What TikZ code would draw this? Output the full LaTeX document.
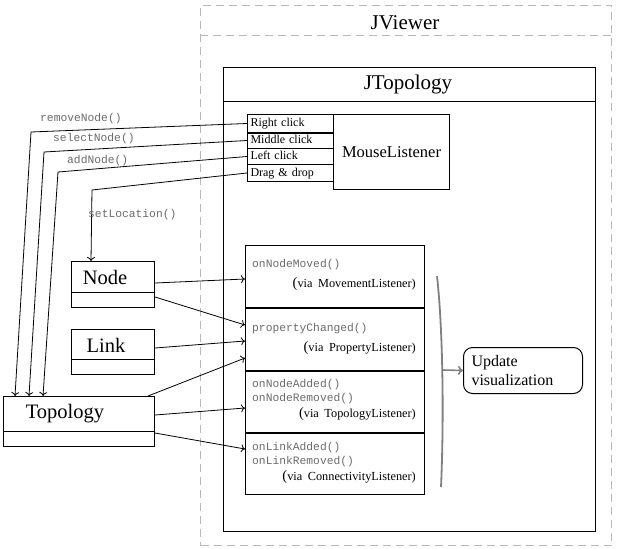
\documentclass[tikz,border=0pt]{standalone}
\usepackage{fontspec}
\setmainfont{Liberation Serif}
\setmonofont{Liberation Mono}
\usetikzlibrary{calc,arrows.meta}
\definecolor{dashgray}{gray}{0.72}
\definecolor{codegray}{gray}{0.42}
\definecolor{bracegray}{gray}{0.5}
\newcommand{\bparen}{{\fontsize{14.5}{15}\selectfont(}}
\newcommand{\viasp}{\hspace{0.45em}}
\tikzset{
  frame/.style={draw, line width=1pt, inner sep=0pt, anchor=north west},
  vframe/.style={draw=dashgray, line width=1pt, dash pattern=on 8pt off 5pt, inner sep=0pt, anchor=north west},
  vline/.style={draw=dashgray, line width=1pt, dash pattern=on 8pt off 5pt},
  thickdiv/.style={line width=2.2pt},
  title/.style={font=\fontsize{21}{24}\selectfont, inner sep=0pt, anchor=base},
  cls/.style={font=\fontsize{20.5}{24}\selectfont, inner sep=0pt, anchor=base},
  cell/.style={frame, font=\fontsize{12}{14}\selectfont, align=left, text width=80pt, inner xsep=3pt, text height=8.5pt, text depth=2.5pt, minimum width=86pt},
  code/.style={font=\ttfamily\fontsize{11.3}{13}\selectfont, text=codegray, anchor=base west, inner sep=0pt},
  via/.style={font=\fontsize{12.3}{14}\selectfont, anchor=base east, inner sep=0pt},
  arr/.style={-{To[length=4pt,width=8pt]}, line width=0.8pt},
  grayarr/.style={-{To[length=5pt,width=9pt]}, line width=1.6pt, draw=bracegray},
  brace/.style={line width=1.8pt, draw=bracegray},
}
\begin{document}
\begin{tikzpicture}[x=1pt,y=-1pt]
\useasboundingbox (0,0) rectangle (617,548);

% JViewer
\node[vframe, minimum width=411pt, minimum height=540pt] (jviewer) at (200,5) {};
\draw[vline] ($(jviewer.north west)+(0,31)$) -- ($(jviewer.north east)+(0,31)$);
\node[title] (jvtitle) at (405,29.5) {JViewer};

% JTopology
\node[frame, minimum width=372pt, minimum height=464pt] (jtopo) at (223,67) {};
\draw[line width=1pt] ($(jtopo.north west)+(0,35)$) -- ($(jtopo.north east)+(0,35)$);
\node[title] (jttitle) at (408,90) {JTopology};

% Mouse listener
\node[cell, minimum height=18pt] (rc) at (247,114) {Right click};
\node[cell, minimum height=16pt] (mc) at (247,132) {Middle click};
\node[cell, minimum height=16pt] (lc) at (247,148) {Left click};
\node[cell, minimum height=17pt] (dd) at (247,164) {Drag \& drop};
\draw[thickdiv] (rc.south west) -- (rc.south east);
\node[frame, minimum width=116pt, minimum height=75pt, font=\fontsize{16.5}{18}\selectfont, text height=11pt, text depth=0pt] (mouse) at (333,114) {MouseListener};

% Listener stack
\node[frame, minimum width=179pt, minimum height=62pt] (moved) at (245,245) {};
\node[frame, minimum width=179pt, minimum height=63pt] (prop) at (245,307) {};
\node[frame, minimum width=179pt, minimum height=62pt] (topl) at (245,370) {};
\node[frame, minimum width=179pt, minimum height=62pt] (conn) at (245,432) {};
\draw[thickdiv] (moved.south west) -- (moved.south east);
\draw[thickdiv] (prop.south west) -- (prop.south east);
\draw[thickdiv] (topl.south west) -- (topl.south east);

\node[code] (t1) at (252,267) {onNodeMoved()};
\node[via] (v1) at (416,287) {\bparen via\viasp MovementListener)};
\node[code] (t2) at (252,331) {propertyChanged()};
\node[via] (v2) at (416,351) {\bparen via\viasp PropertyListener)};
\node[code] (t3) at (252,387) {onNodeAdded()};
\node[code] (t4) at (252,401) {onNodeRemoved()};
\node[via] (v3) at (416,417) {\bparen via\viasp TopologyListener)};
\node[code] (t5) at (252,450) {onLinkAdded()};
\node[code] (t6) at (252,464) {onLinkRemoved()};
\node[via] (v4) at (416,480) {\bparen via\viasp ConnectivityListener)};

% Update visualization
\node[frame, rounded corners=9pt, minimum width=119pt, minimum height=46pt, text width=103pt, inner xsep=8pt, align=left, font=\fontsize{16}{19}\selectfont] (update) at (463,347) {Update\\visualization};
\draw[brace] (437,276) .. controls (443,330) and (444,420) .. (441,487);
\coordinate (bmid) at (442.5,370);
\draw[grayarr] (bmid) -- (update.west);

% Model classes
\node[frame, minimum width=83pt, minimum height=46pt] (nodeC) at (71,261) {};
\draw[line width=1pt] ($(nodeC.north west)+(0,31)$) -- ($(nodeC.north east)+(0,31)$);
\node[cls] (nodeT) at (105,284) {Node};
\node[frame, minimum width=83pt, minimum height=45pt] (linkC) at (71,329) {};
\draw[line width=1pt] ($(linkC.north west)+(0,30)$) -- ($(linkC.north east)+(0,30)$);
\node[cls] (linkT) at (106,352) {Link};
\node[frame, minimum width=151pt, minimum height=50pt] (topoC) at (3,396) {};
\draw[line width=1pt] ($(topoC.north west)+(0,35)$) -- ($(topoC.north east)+(0,35)$);
\node[cls] (topoT) at (65,418) {Topology};

% Mouse actions to model
\draw[arr] (rc.west) -- (31,132) -- ($(topoC.north west)+(12,0)$);
\draw[arr] (mc.west) -- (44,152) -- ($(topoC.north west)+(26,0)$);
\draw[arr] (lc.west) -- (58,172) -- ($(topoC.north west)+(40,0)$);
\draw[arr] (dd.west) -- (92,190) -- ($(nodeC.north west)+(20,0)$);
\node[code] (l1) at (40,122) {removeNode()};
\node[code] (l2) at (53,142) {selectNode()};
\node[code] (l3) at (67,163) {addNode()};
\node[code] (l4) at (88,217) {setLocation()};

% Model to listeners
\draw[arr] ($(nodeC.north east)+(0,22)$) -- ($(moved.north west)+(0,34)$);
\draw[arr] ($(nodeC.north east)+(0,36)$) -- ($(prop.north west)+(0,18)$);
\draw[arr] ($(linkC.north east)+(0,19)$) -- ($(prop.north west)+(0,34)$);
\draw[arr] ($(topoC.north east)+(-7,0)$) -- ($(prop.north west)+(0,51)$);
\draw[arr] ($(topoC.north east)+(0,19)$) -- ($(topl.north west)+(0,38)$);
\draw[arr] ($(topoC.north east)+(0,37)$) -- ($(conn.north west)+(0,17)$);
\end{tikzpicture}
\end{document}
